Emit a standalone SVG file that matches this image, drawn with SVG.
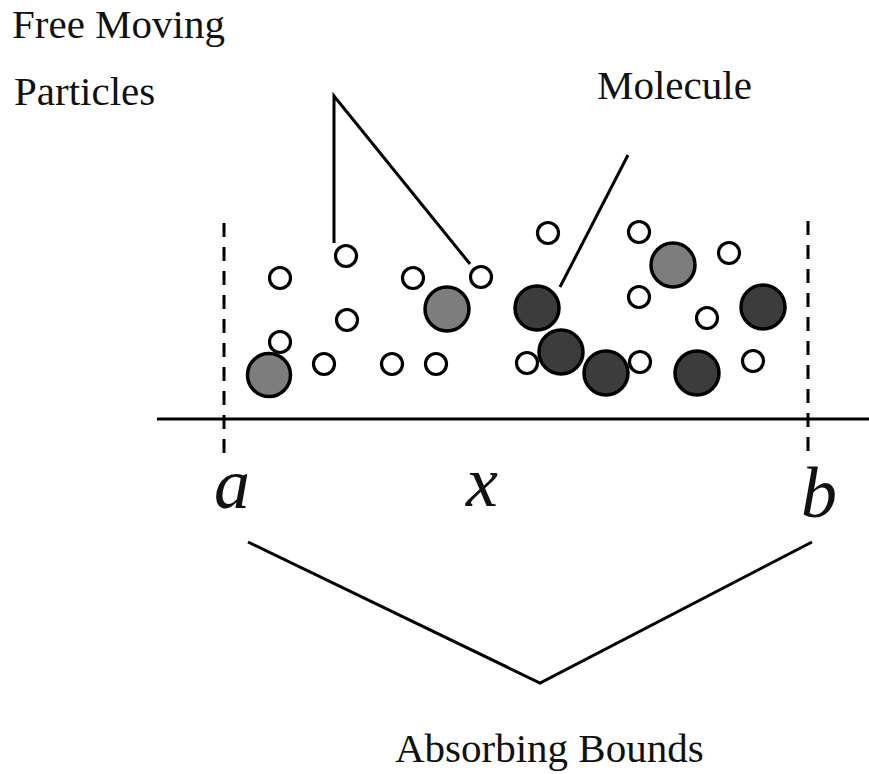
<svg xmlns="http://www.w3.org/2000/svg" width="869" height="774" viewBox="0 0 869 774">
<style>
.t{font-family:"Liberation Serif","Times New Roman",serif;font-size:41px;fill:#111}
.m{font-family:"Liberation Serif","Times New Roman",serif;font-style:italic;font-size:72px;fill:#111}
.sp{fill:#fff;stroke:#000;stroke-width:3.2}
.g{fill:#7d7d7d;stroke:#000;stroke-width:3.5}
.d{fill:#3c3c3c;stroke:#000;stroke-width:3.5}
.ln{stroke:#000;stroke-width:3;fill:none}
.dash{stroke:#000;stroke-width:3;stroke-dasharray:14 10;fill:none}
</style>
<rect width="869" height="774" fill="#fff"/>
<g id="labels">
<text class="t" x="12" y="38">Free Moving</text>
<text class="t" x="14" y="105">Particles</text>
<text class="t" x="597" y="99">Molecule</text>
<text class="t" x="395" y="762">Absorbing Bounds</text>
<text class="m" x="214" y="508">a</text>
<text class="m" x="466" y="506">x</text>
<text class="m" x="801" y="517">b</text>
</g>
<g id="connectors">
<polyline class="ln" points="334,243 334,96 470,264"/>
<line class="ln" x1="628" y1="155" x2="560" y2="287"/>
<polyline class="ln" points="248,542 540,683 812,542"/>
<line class="ln" x1="157" y1="419" x2="869" y2="419"/>
<line class="dash" x1="224" y1="223" x2="224" y2="462"/>
<line class="dash" x1="808" y1="221" x2="808" y2="458"/>
</g>
<g id="particles">
<circle class="sp" cx="346" cy="256" r="10.5"/>
<circle class="sp" cx="280" cy="278" r="10.5"/>
<circle class="sp" cx="413" cy="278" r="10.5"/>
<circle class="sp" cx="481" cy="277" r="10.5"/>
<circle class="sp" cx="347" cy="320" r="10.5"/>
<circle class="sp" cx="280" cy="342" r="10.5"/>
<circle class="sp" cx="324" cy="364" r="10.5"/>
<circle class="sp" cx="392" cy="364" r="10.5"/>
<circle class="sp" cx="436" cy="364" r="10.5"/>
<circle class="sp" cx="548" cy="233" r="10.5"/>
<circle class="sp" cx="639" cy="232" r="10.5"/>
<circle class="sp" cx="729" cy="253" r="10.5"/>
<circle class="sp" cx="639" cy="297" r="10.5"/>
<circle class="sp" cx="707" cy="318" r="10.5"/>
<circle class="sp" cx="527" cy="363" r="10.5"/>
<circle class="sp" cx="640" cy="362" r="10.5"/>
<circle class="sp" cx="753" cy="361" r="10.5"/>
</g>
<g id="molecules">
<circle class="g" cx="269" cy="375" r="21.5"/>
<circle class="g" cx="447" cy="309" r="22"/>
<circle class="g" cx="673" cy="265" r="22"/>
<circle class="d" cx="537" cy="308" r="22"/>
<circle class="d" cx="561" cy="352" r="22"/>
<circle class="d" cx="606" cy="373" r="22"/>
<circle class="d" cx="697" cy="373" r="22"/>
<circle class="d" cx="763" cy="307" r="22"/>
</g>
</svg>
